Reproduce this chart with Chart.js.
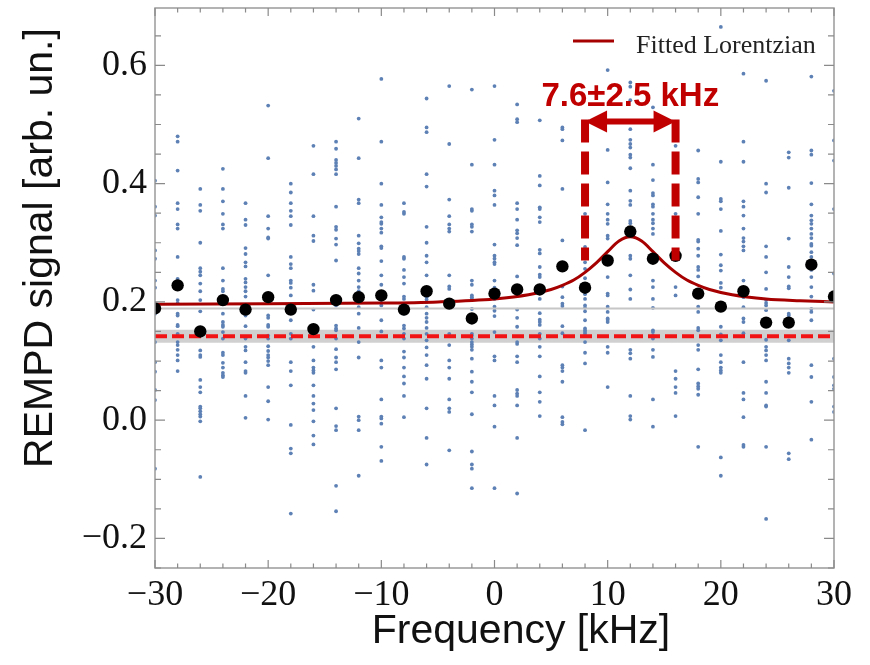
<!DOCTYPE html>
<html>
<head>
<meta charset="utf-8">
<title>REMPD signal vs frequency</title>
<script src="https://cdn.jsdelivr.net/npm/chart.js@4.4.1/dist/chart.umd.min.js"></script>
<style>
  html, body { margin: 0; padding: 0; background: #fff; }
  #wrap { width: 870px; height: 665px; }
</style>
</head>
<body>
<div id="wrap"><canvas id="chart" width="870" height="665"></canvas></div>
<script>
// Frequency steps (kHz) and averaged signal per step
const freqs = [-30, -28, -26, -24, -22, -20, -18, -16, -14, -12, -10, -8, -6, -4, -2, 0,
  2, 4, 6, 8, 10, 12, 14, 16, 18, 20, 22, 24, 26, 28, 30];
const meanSignal = [0.189, 0.228, 0.150, 0.203, 0.187, 0.208, 0.187, 0.154, 0.203, 0.208, 0.211,
  0.187, 0.218, 0.197, 0.172, 0.214, 0.221, 0.221, 0.260, 0.224, 0.270, 0.319, 0.273, 0.278,
  0.214, 0.192, 0.218, 0.165, 0.165, 0.263, 0.209];

// Single shots, one list per frequency step (same order as freqs)
const rawSignal = [
  [0.405, 0.361, 0.346, 0.287, 0.273, 0.236, 0.224, 0.180, 0.132, 0.098, 0.082, 0.051, 0.034, -0.082],
  [0.480, 0.471, 0.422, 0.367, 0.357, 0.331, 0.324, 0.276, 0.239, 0.203, 0.198, 0.180, 0.177, 0.161, 0.159, 0.146, 0.143, 0.132, 0.127, 0.119, 0.110, 0.101, 0.083],
  [0.391, 0.364, 0.354, 0.300, 0.257, 0.251, 0.245, 0.231, 0.218, 0.203, 0.184, 0.118, 0.110, 0.107, 0.068, 0.056, 0.047, 0.023, 0.020, 0.015, 0.010, 0.006, -0.002, -0.096],
  [0.425, 0.391, 0.370, 0.349, 0.331, 0.324, 0.257, 0.236, 0.222, 0.218, 0.197, 0.180, 0.166, 0.161, 0.158, 0.149, 0.138, 0.114, 0.110, 0.097, 0.089, 0.080, 0.076, 0.073],
  [0.367, 0.339, 0.330, 0.291, 0.281, 0.267, 0.260, 0.239, 0.233, 0.225, 0.218, 0.209, 0.177, 0.159, 0.138, 0.124, 0.118, 0.098, 0.083, 0.080, 0.041, 0.004],
  [0.532, 0.443, 0.345, 0.324, 0.309, 0.307, 0.245, 0.177, 0.173, 0.161, 0.158, 0.143, 0.138, 0.125, 0.117, 0.110, 0.106, 0.100, 0.093, 0.056, 0.032, 0.001],
  [0.400, 0.385, 0.367, 0.354, 0.345, 0.330, 0.276, 0.264, 0.257, 0.236, 0.232, 0.224, 0.211, 0.194, 0.169, 0.146, 0.138, 0.098, 0.083, 0.059, -0.008, -0.048, -0.056, -0.158],
  [0.464, 0.416, 0.345, 0.312, 0.303, 0.229, 0.219, 0.187, 0.160, 0.158, 0.124, 0.101, 0.089, 0.084, 0.080, 0.059, 0.041, 0.028, 0.017, -0.002, -0.026, -0.041],
  [0.471, 0.459, 0.440, 0.435, 0.430, 0.424, 0.416, 0.361, 0.327, 0.322, 0.307, 0.297, 0.270, 0.198, 0.194, 0.160, 0.155, 0.152, 0.138, 0.120, 0.106, 0.098, 0.086, 0.020, -0.010, -0.017, -0.111, -0.154],
  [0.510, 0.443, 0.373, 0.367, 0.312, 0.299, 0.290, 0.286, 0.281, 0.257, 0.248, 0.236, 0.225, 0.218, 0.191, 0.180, 0.156, 0.132, 0.106, 0.006, 0.000, -0.017, -0.094],
  [0.577, 0.471, 0.400, 0.364, 0.343, 0.335, 0.332, 0.324, 0.317, 0.294, 0.291, 0.269, 0.245, 0.229, 0.203, 0.194, 0.169, 0.150, 0.101, 0.089, 0.035, 0.006, 0.003, -0.006, -0.045, -0.069],
  [0.367, 0.352, 0.349, 0.276, 0.273, 0.254, 0.242, 0.231, 0.209, 0.205, 0.187, 0.180, 0.160, 0.155, 0.146, 0.138, 0.116, 0.106, 0.089, 0.074, 0.062, 0.041, 0.005],
  [0.544, 0.495, 0.487, 0.416, 0.395, 0.327, 0.300, 0.278, 0.267, 0.245, 0.208, 0.204, 0.200, 0.191, 0.180, 0.173, 0.166, 0.156, 0.146, 0.135, 0.123, 0.110, 0.093, 0.070, 0.020, -0.030, -0.075],
  [0.565, 0.467, 0.373, 0.345, 0.331, 0.324, 0.319, 0.245, 0.226, 0.222, 0.198, 0.194, 0.146, 0.127, 0.101, 0.089, 0.070, 0.035, 0.020, 0.014, -0.051],
  [0.559, 0.432, 0.357, 0.354, 0.331, 0.327, 0.319, 0.236, 0.229, 0.211, 0.208, 0.205, 0.188, 0.146, 0.143, 0.138, 0.132, 0.128, 0.124, 0.119, 0.104, 0.082, 0.065, 0.047, 0.010, -0.053, -0.075, -0.082, -0.115],
  [0.565, 0.474, 0.432, 0.388, 0.380, 0.364, 0.297, 0.278, 0.273, 0.267, 0.264, 0.236, 0.224, 0.205, 0.192, 0.185, 0.176, 0.149, 0.108, 0.101, 0.041, 0.025, -0.011, -0.115],
  [0.534, 0.509, 0.504, 0.367, 0.357, 0.339, 0.321, 0.316, 0.308, 0.296, 0.243, 0.187, 0.173, 0.158, 0.132, 0.129, 0.108, 0.098, 0.051, 0.045, 0.041, 0.025, -0.030, -0.124],
  [0.507, 0.413, 0.397, 0.360, 0.357, 0.343, 0.335, 0.288, 0.282, 0.259, 0.246, 0.242, 0.205, 0.181, 0.170, 0.166, 0.161, 0.146, 0.138, 0.124, 0.108, 0.074, 0.047, 0.031, 0.007],
  [0.495, 0.492, 0.473, 0.391, 0.304, 0.226, 0.208, 0.197, 0.193, 0.159, 0.147, 0.093, 0.089, 0.083, 0.065, 0.005, -0.003, -0.007],
  [0.349, 0.293, 0.267, 0.256, 0.240, 0.213, 0.205, 0.194, 0.190, 0.184, 0.169, 0.155, 0.152, 0.149, 0.146, 0.132, 0.114, 0.096, -0.017],
  [0.592, 0.457, 0.402, 0.365, 0.349, 0.339, 0.332, 0.312, 0.307, 0.242, 0.214, 0.211, 0.192, 0.183, 0.172, 0.170, 0.166, 0.124, 0.114, 0.056],
  [0.571, 0.564, 0.541, 0.492, 0.474, 0.467, 0.461, 0.449, 0.444, 0.426, 0.388, 0.371, 0.364, 0.337, 0.333, 0.278, 0.273, 0.245, 0.221, 0.205, 0.119, 0.113, 0.104, 0.041, 0.007, 0.001],
  [0.529, 0.432, 0.406, 0.384, 0.380, 0.365, 0.361, 0.349, 0.339, 0.333, 0.324, 0.315, 0.236, 0.225, 0.205, 0.190, 0.152, 0.149, 0.143, 0.138, 0.119, 0.107, 0.035, -0.011],
  [0.464, 0.377, 0.349, 0.332, 0.321, 0.225, 0.211, 0.083, 0.070, 0.056, 0.046, 0.007],
  [0.456, 0.408, 0.402, 0.377, 0.349, 0.305, 0.302, 0.290, 0.278, 0.259, 0.254, 0.243, 0.192, 0.183, 0.156, 0.152, 0.127, 0.119, 0.086, 0.062, 0.057, 0.053, 0.043, -0.045],
  [0.665, 0.437, 0.374, 0.370, 0.357, 0.320, 0.280, 0.262, 0.253, 0.232, 0.224, 0.197, 0.192, 0.158, 0.145, 0.135, 0.110, 0.098, 0.089, 0.084, 0.080, -0.063, -0.094],
  [0.586, 0.471, 0.437, 0.370, 0.361, 0.346, 0.324, 0.308, 0.302, 0.294, 0.287, 0.236, 0.208, 0.191, 0.172, 0.166, 0.147, 0.098, 0.046, 0.035, 0.005, -0.042, -0.045],
  [0.574, 0.400, 0.385, 0.294, 0.276, 0.250, 0.222, 0.203, 0.198, 0.194, 0.186, 0.136, 0.124, 0.118, 0.110, 0.101, 0.065, 0.046, 0.025, 0.023, -0.045, -0.167],
  [0.453, 0.444, 0.393, 0.307, 0.259, 0.242, 0.226, 0.223, 0.180, 0.177, 0.135, 0.104, 0.096, 0.089, 0.080, -0.056, -0.066],
  [0.581, 0.456, 0.449, 0.401, 0.365, 0.346, 0.338, 0.332, 0.324, 0.315, 0.308, 0.298, 0.295, 0.284, 0.276, 0.254, 0.242, 0.225, 0.209, 0.188, 0.183, 0.169, 0.093, 0.073, 0.031, -0.033],
  [0.557, 0.473, 0.439, 0.357, 0.248, 0.211, 0.203, 0.104, 0.073, 0.059, 0.053, 0.023, 0.014],
];

// Fitted Lorentzian
const fitFreq = [-30, -20, -10, -5, 0, 3, 5, 6, 7, 8, 9, 10, 11, 12, 13, 14, 15, 16, 17, 18, 19, 21, 24, 27, 30];
const fitSignal = [0.196, 0.197, 0.198, 0.200, 0.205, 0.212, 0.221, 0.228, 0.237, 0.250, 0.266, 0.285,
  0.303, 0.310, 0.303, 0.285, 0.266, 0.250, 0.237, 0.228, 0.221, 0.212, 0.205, 0.202, 0.200];

const offsetLevel = 0.189;          // thin grey line
const noiseLevel = 0.142;           // red dashed line
const noiseBand = [0.131, 0.153];   // grey band around it

// FWHM marker: 7.6 ± 2.5 kHz
const fwhmLabel = '7.6\u00b12.5 kHz';
const fwhmEdges = [8, 16];
const fwhmTop = 0.505;
const fwhmBottom = 0.27;

const xTicks = [-30, -20, -10, 0, 10, 20, 30];
const yTicks = [-0.2, 0, 0.2, 0.4, 0.6];

const FIT_RED = '#a60000';
const MARK_RED = '#c00000';
const FRAME = '#9a9a9a';

function minus(s) { return String(s).replace('-', '\u2212'); }
function flat(level) { return [{ x: -30, y: level }, { x: 30, y: level }]; }

const rawPoints = [];
freqs.forEach((f, i) => rawSignal[i].forEach(v => rawPoints.push({ x: f, y: v })));

// frame, inward ticks, titles, legend and FWHM marker
const overlay = {
  id: 'overlay',
  afterDatasetsDraw(chart) {
    const { ctx, chartArea: a, scales: { x, y } } = chart;
    ctx.save();

    // FWHM marker
    const xl = x.getPixelForValue(fwhmEdges[0]);
    const xr = x.getPixelForValue(fwhmEdges[1]);
    const yt = y.getPixelForValue(fwhmTop);
    const yb = y.getPixelForValue(fwhmBottom);
    ctx.strokeStyle = MARK_RED;
    ctx.fillStyle = MARK_RED;
    ctx.lineWidth = 8;
    ctx.setLineDash([23, 9]);
    [xl, xr].forEach(px => {
      ctx.beginPath(); ctx.moveTo(px, yt - 2); ctx.lineTo(px, yb); ctx.stroke();
    });
    ctx.setLineDash([]);
    ctx.lineWidth = 6;
    ctx.beginPath(); ctx.moveTo(xl + 18, yt); ctx.lineTo(xr - 18, yt); ctx.stroke();
    [[xl, 1], [xr, -1]].forEach(([px, d]) => {
      ctx.beginPath();
      ctx.moveTo(px, yt);
      ctx.lineTo(px + d * 22, yt - 11);
      ctx.lineTo(px + d * 22, yt + 11);
      ctx.closePath(); ctx.fill();
    });
    ctx.font = 'bold 33px "Liberation Sans", Arial, sans-serif';
    ctx.textAlign = 'center';
    ctx.textBaseline = 'alphabetic';
    ctx.fillText(fwhmLabel, (xl + xr) / 2, yt - 16);

    // frame
    ctx.strokeStyle = FRAME;
    ctx.lineWidth = 1.5;
    ctx.strokeRect(a.left, a.top, a.right - a.left, a.bottom - a.top);

    // inward ticks on all four sides
    ctx.lineWidth = 1.2;
    ctx.strokeStyle = '#8a8a8a';
    ctx.beginPath();
    for (let f = -30; f <= 30; f += 2) {
      const px = x.getPixelForValue(f);
      const len = f % 10 === 0 ? 8 : 4.5;
      ctx.moveTo(px, a.bottom); ctx.lineTo(px, a.bottom - len);
      ctx.moveTo(px, a.top); ctx.lineTo(px, a.top + len);
    }
    for (let k = -5; k <= 13; k++) {
      const v = k * 0.05;
      const py = y.getPixelForValue(v);
      const len = k % 4 === 0 ? 10 : 6;
      ctx.moveTo(a.left, py); ctx.lineTo(a.left + len, py);
      ctx.moveTo(a.right, py); ctx.lineTo(a.right - len, py);
    }
    ctx.stroke();
    ctx.restore();
  },
  afterDraw(chart) {
    const { ctx } = chart;
    ctx.save();
    ctx.fillStyle = '#111';
    ctx.font = '41px "Liberation Sans", Arial, sans-serif';
    ctx.textAlign = 'center';
    ctx.textBaseline = 'alphabetic';
    ctx.fillText('Frequency [kHz]', 521, 643);

    ctx.translate(52, 248);
    ctx.rotate(-Math.PI / 2);
    ctx.font = '41px "Liberation Sans", Arial, sans-serif';
    ctx.fillText('REMPD signal [arb. un.]', 0, 0);
    ctx.setTransform(1, 0, 0, 1, 0, 0);

    // legend
    ctx.strokeStyle = FIT_RED;
    ctx.lineWidth = 3;
    ctx.beginPath(); ctx.moveTo(573, 41); ctx.lineTo(614, 41); ctx.stroke();
    ctx.fillStyle = '#222';
    ctx.font = '26px "Liberation Serif", "Times New Roman", serif';
    ctx.textAlign = 'left';
    ctx.fillText('Fitted Lorentzian', 636, 53);
    ctx.restore();
  }
};

const serifTicks = { family: '"Liberation Serif", "Times New Roman", serif', size: 36 };

new Chart(document.getElementById('chart'), {
  type: 'scatter',
  data: {
    datasets: [
      { label: 'Mean', data: freqs.map((f, i) => ({ x: f, y: meanSignal[i] })),
        pointRadius: 6.2, pointBackgroundColor: '#000', pointBorderWidth: 0, clip: 0 },
      { label: 'Fitted Lorentzian', data: fitFreq.map((f, i) => ({ x: f, y: fitSignal[i] })),
        showLine: true, borderColor: FIT_RED, borderWidth: 3, pointRadius: 0,
        cubicInterpolationMode: 'monotone', clip: 0 },
      { label: 'Noise level', data: flat(noiseLevel), showLine: true, borderColor: '#f21414',
        borderWidth: 4, borderDash: [12, 5], pointRadius: 0, clip: 0 },
      { label: 'Offset', data: flat(offsetLevel), showLine: true, borderColor: '#c6c6c6',
        borderWidth: 2, pointRadius: 0, clip: 0 },
      { label: 'Shots', data: rawPoints, pointRadius: 1.9, pointBackgroundColor: '#5e81b5',
        pointBorderWidth: 0, clip: 0 },
      { label: 'Band high', data: flat(noiseBand[1]), showLine: true, borderWidth: 0,
        pointRadius: 0, fill: '+1', backgroundColor: 'rgba(200,200,200,0.85)', clip: 0 },
      { label: 'Band low', data: flat(noiseBand[0]), showLine: true, borderWidth: 0,
        pointRadius: 0, clip: 0 },
    ],
  },
  options: {
    responsive: false,
    animation: false,
    devicePixelRatio: 1,
    layout: { padding: { top: 8, right: 36, left: 0, bottom: 0 } },
    plugins: { legend: { display: false }, tooltip: { enabled: false } },
    scales: {
      x: {
        type: 'linear', min: -30, max: 30,
        afterBuildTicks: s => { s.ticks = xTicks.map(v => ({ value: v })); },
        afterFit: s => { s.height = 97; s.paddingLeft = 0; s.paddingRight = 0; },
        grid: { display: false, drawTicks: false },
        border: { display: false },
        ticks: { font: serifTicks, color: '#111', padding: 6, maxRotation: 0, autoSkip: false,
          callback: v => minus(v) },
      },
      y: {
        type: 'linear', min: -0.25, max: 0.697,
        afterBuildTicks: s => { s.ticks = yTicks.map(v => ({ value: v })); },
        afterFit: s => { s.width = 155; s.paddingTop = 0; s.paddingBottom = 0; },
        grid: { display: false, drawTicks: false },
        border: { display: false },
        ticks: { font: serifTicks, color: '#111', padding: 8, autoSkip: false,
          callback: v => minus(Number(v).toFixed(1)) },
      },
    },
  },
  plugins: [overlay],
});
</script>
</body>
</html>
